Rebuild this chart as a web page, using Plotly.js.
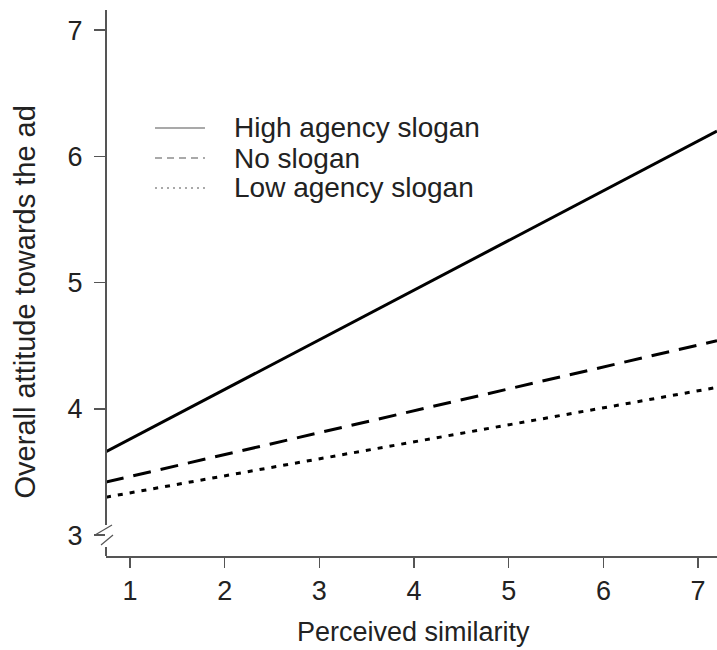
<!DOCTYPE html>
<html>
<head>
<meta charset="utf-8">
<script src="https://cdn.plot.ly/plotly-3.0.1.min.js"></script>
<style>html,body{margin:0;padding:0;background:#fff;}#chart{width:717px;height:650px;}</style>
</head>
<body>
<div id="chart"></div>
<script>
// Data (line endpoints at plot edges)
const xEnds = [0.746, 7.2];
const highAgency = [3.66, 6.20];
const noSlogan = [3.42, 4.54];
const lowAgency = [3.30, 4.17];
const seriesNames = ["High agency slogan", "No slogan", "Low agency slogan"];
const xTicks = [1, 2, 3, 4, 5, 6, 7];
const yTicks = [3, 4, 5, 6, 7];
const xTitle = "Perceived similarity";
const yTitle = "Overall attitude towards the ad";

const axisCol = "#555";
const fam = "Liberation Sans, Arial, sans-serif";
const tickFont = {family: fam, size: 27, color: "#222"};
const xTitleFont = {family: fam, size: 27, color: "#222"};
const yTitleFont = {family: fam, size: 29, color: "#222"};
const legFont = {family: fam, size: 28, color: "#222"};

const mainDash = ["solid", "18px,10px", "5px,7px"];
const legDash = ["solid", "7px,5px", "2px,4px"];
const vals = [highAgency, noSlogan, lowAgency];

const traces = vals.map((v, i) => ({
  x: xEnds, y: v, mode: "lines", type: "scatter", showlegend: false,
  line: {color: "#000", width: 3, dash: mainDash[i]}, name: seriesNames[i], hoverinfo: "skip"
}));

const shapes = [
  // y axis line, broken near 3
  {type: "line", xref: "paper", yref: "y", x0: 0, x1: 0, y0: 3.079, y1: 7.16, line: {color: axisCol, width: 2}},
  {type: "line", xref: "paper", yref: "y", x0: 0, x1: 0, y0: 2.834, y1: 2.905, line: {color: axisCol, width: 2}},
  // break slashes
  {type: "line", xref: "paper", yref: "y", xsizemode: "pixel", ysizemode: "pixel", xanchor: 0, yanchor: 3,
    x0: -11, x1: 6, y0: 0, y1: 10, line: {color: axisCol, width: 1.2}},
  {type: "line", xref: "paper", yref: "y", xsizemode: "pixel", ysizemode: "pixel", xanchor: 0, yanchor: 3,
    x0: -5, x1: 7, y0: -10, y1: 0, line: {color: axisCol, width: 1.2}}
];

// manual legend (no box)
const legRowsY = [0.7839, 0.7289, 0.674];
const annotations = [];
seriesNames.forEach((n, i) => {
  shapes.push({type: "line", xref: "paper", yref: "paper", x0: 0.0802, x1: 0.162, y0: legRowsY[i], y1: legRowsY[i],
    line: {color: "#555", width: 1.2, dash: legDash[i]}});
  annotations.push({xref: "paper", yref: "paper", x: 0.2062, y: legRowsY[i], xanchor: "left", yanchor: "middle",
    text: n, showarrow: false, font: legFont});
});
annotations.push({xref: "paper", yref: "paper", x: -0.132, y: 0.465, xanchor: "center", yanchor: "middle",
  text: yTitle, textangle: -90, showarrow: false, font: yTitleFont});
annotations.push({xref: "paper", yref: "paper", x: 0.5025, y: -0.139, xanchor: "center", yanchor: "middle",
  text: xTitle, showarrow: false, font: xTitleFont});

const layout = {
  width: 717, height: 650,
  margin: {l: 106, r: 0, t: 10, b: 94},
  paper_bgcolor: "#fff", plot_bgcolor: "#fff",
  font: tickFont,
  showlegend: false,
  xaxis: {range: [0.746, 7.2], tickvals: xTicks, ticktext: xTicks.map(String),
    showgrid: false, zeroline: false, showline: true, linecolor: axisCol, linewidth: 1.5,
    ticks: "outside", ticklen: 10, tickcolor: axisCol, tickwidth: 1.5, tickfont: tickFont},
  yaxis: {range: [2.834, 7.16], tickvals: yTicks, ticktext: yTicks.map(String),
    showgrid: false, zeroline: false, showline: false,
    ticks: "outside", ticklen: 11, tickcolor: axisCol, tickwidth: 1.5, tickfont: tickFont,
    ticklabelstandoff: 6},
  shapes: shapes,
  annotations: annotations
};

Plotly.newPlot("chart", traces, layout, {displayModeBar: false, staticPlot: true});
</script>
</body>
</html>
